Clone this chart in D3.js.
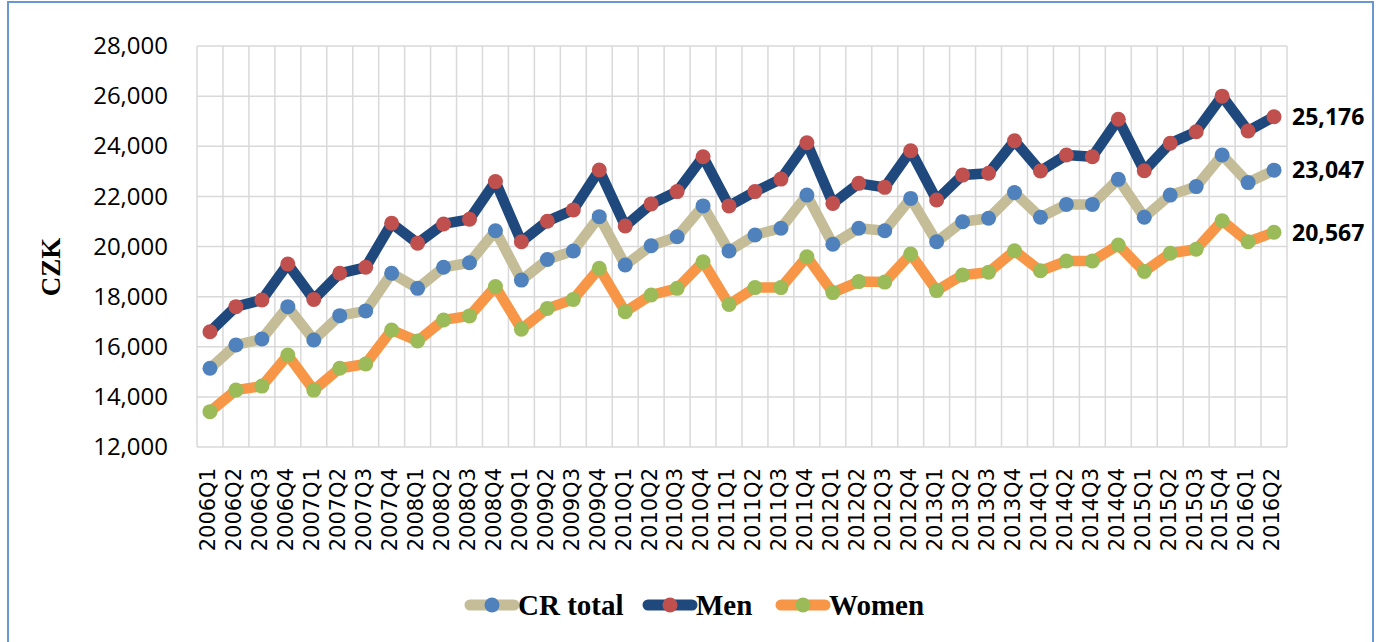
<!DOCTYPE html>
<html>
<head>
<meta charset="utf-8">
<script src="https://cdn.jsdelivr.net/npm/d3@7"></script>
<style>
  body { margin: 0; background: #fff; }
  svg { display: block; }
</style>
</head>
<body>
<div id="chart"></div>
<script>
// quarters on the x axis
quarters = [
    "2006Q1", "2006Q2", "2006Q3", "2006Q4",
    "2007Q1", "2007Q2", "2007Q3", "2007Q4",
    "2008Q1", "2008Q2", "2008Q3", "2008Q4",
    "2009Q1", "2009Q2", "2009Q3", "2009Q4",
    "2010Q1", "2010Q2", "2010Q3", "2010Q4",
    "2011Q1", "2011Q2", "2011Q3", "2011Q4",
    "2012Q1", "2012Q2", "2012Q3", "2012Q4",
    "2013Q1", "2013Q2", "2013Q3", "2013Q4",
    "2014Q1", "2014Q2", "2014Q3", "2014Q4",
    "2015Q1", "2015Q2", "2015Q3", "2015Q4",
    "2016Q1", "2016Q2"
];

// values (CZK)
crTotal = [
    15140, 16070, 16310, 17600, 16270, 17240, 17430, 18930,
    18330, 19170, 19350, 20630, 18660, 19480, 19820, 21190,
    19260, 20030, 20390, 21620, 19820, 20460, 20730, 22050,
    20090, 20730, 20630, 21920, 20190, 20990, 21125, 22150,
    21165, 21680, 21680, 22680, 21165, 22050, 22390, 23650,
    22550, 23047
];
men = [
    16600, 17600, 17865, 19300, 17890, 18930, 19170, 20925,
    20130, 20900, 21085, 22590, 20190, 21010, 21460, 23050,
    20820, 21700, 22190, 23580, 21620, 22190, 22690, 24140,
    21720, 22520, 22360, 23820, 21855, 22850, 22920, 24220,
    23010, 23650, 23580, 25075, 23020, 24120, 24580, 26000,
    24610, 25176
];
women = [
    13410, 14270, 14430, 15670, 14270, 15140, 15310, 16670,
    16230, 17070, 17230, 18400, 16700, 17530, 17890, 19130,
    17400, 18065, 18330, 19390, 17690, 18360, 18360, 19590,
    18160, 18600, 18580, 19700, 18240, 18860, 18970, 19830,
    19030, 19420, 19420, 20060, 19000, 19730, 19890, 21030,
    20190, 20567
];

yTicks = [12000, 14000, 16000, 18000, 20000, 22000, 24000, 26000, 28000];

seriesNames = ["CR total", "Men", "Women"];
lineColors = ["#C4BD97", "#1F497D", "#F79646"];
markerColors = ["#4F81BD", "#C0504D", "#9BBB59"];

width = 1381;
height = 642;
plotLeft = 197;
plotRight = 1287;
plotTop = 46;
plotBottom = 447;
lineStroke = 10.5;
circleRadius = 7.5;

data = [crTotal, men, women].map(function (vals, i) {
    return {
        name: seriesNames[i],
        values: vals.map(function (v, j) { return { q: quarters[j], v: v }; })
    };
});

/* Scale */
xScale = d3.scaleBand().domain(quarters).range([plotLeft, plotRight]).padding(0);
yScale = d3.scaleLinear().domain([12000, 28000]).range([plotBottom, plotTop]);
xMid = function (q) { return xScale(q) + xScale.bandwidth() / 2; };

svg = d3.select("#chart").append("svg")
    .attr("width", width)
    .attr("height", height);

// outer frame
svg.append("rect")
    .attr("x", 8)
    .attr("y", 2)
    .attr("width", 1365)
    .attr("height", 680)
    .attr("fill", "none")
    .attr("stroke", "#6A96D2")
    .attr("stroke-width", 2);

/* gridlines */
grid = svg.append("g").attr("class", "grid");

grid.selectAll(".hgrid")
    .data(yTicks).enter()
    .append("line")
    .attr("x1", plotLeft)
    .attr("x2", plotRight)
    .attr("y1", d => yScale(d))
    .attr("y2", d => yScale(d))
    .attr("stroke", "#D9D9D9")
    .attr("stroke-width", 1.5);

grid.selectAll(".vgrid")
    .data(quarters.concat(["end"])).enter()
    .append("line")
    .attr("x1", d => d == "end" ? plotRight : xScale(d))
    .attr("x2", d => d == "end" ? plotRight : xScale(d))
    .attr("y1", plotTop)
    .attr("y2", plotBottom)
    .attr("stroke", "#D9D9D9")
    .attr("stroke-width", 1.5);

/* Axes */
yAxis = d3.axisLeft(yScale)
    .tickValues(yTicks)
    .tickFormat(d3.format(","))
    .tickSize(0)
    .tickPadding(29);

svg.append("g")
    .attr("transform", `translate(${plotLeft},0)`)
    .call(yAxis)
    .call(g => g.select(".domain").remove())
    .selectAll("text")
    .attr("fill", "#000")
    .style("font-family", "'Open Sans', sans-serif")
    .style("font-size", "24px");

xAxis = d3.axisBottom(xScale).tickSize(0);

svg.append("g")
    .attr("transform", `translate(0,${plotBottom})`)
    .call(xAxis)
    .call(g => g.select(".domain").remove())
    .selectAll("text")
    .attr("fill", "#000")
    .attr("transform", "rotate(-90)")
    .attr("x", -21)
    .attr("y", -2)
    .attr("dy", "0.35em")
    .style("text-anchor", "end")
    .style("font-family", "'DejaVu Sans', sans-serif")
    .style("font-size", "21px");

svg.append("text")
    .attr("transform", "translate(60,267) rotate(-90)")
    .style("text-anchor", "middle")
    .style("font-family", "'Liberation Serif', serif")
    .style("font-weight", "bold")
    .style("font-size", "27px")
    .text("CZK");

/* lines and markers */
line = d3.line()
    .x(d => xMid(d.q))
    .y(d => yScale(d.v));

lines = svg.append("g").attr("class", "lines");

data.forEach(function (s, i) {
    g = lines.append("g").attr("class", "line-group");
    g.append("path")
        .attr("d", line(s.values))
        .attr("fill", "none")
        .attr("stroke", lineColors[i])
        .attr("stroke-width", lineStroke)
        .attr("stroke-linejoin", "round")
        .attr("stroke-linecap", "round");
    g.selectAll("circle")
        .data(s.values).enter()
        .append("circle")
        .attr("cx", d => xMid(d.q))
        .attr("cy", d => yScale(d.v))
        .attr("r", circleRadius)
        .attr("fill", markerColors[i]);

    // label on the last point
    last = s.values[s.values.length - 1];
    svg.append("text")
        .attr("x", xMid(last.q) + 18)
        .attr("y", yScale(last.v))
        .attr("dy", "0.36em")
        .style("font-family", "'Open Sans', sans-serif")
        .style("font-weight", "bold")
        .style("font-size", "23px")
        .text(d3.format(",")(last.v));
});

/* legend */
legendX = [466, 644, 777];
legend = svg.append("g").attr("class", "legend");
seriesNames.forEach(function (name, i) {
    lg = legend.append("g").attr("transform", `translate(${legendX[i]},605)`);
    lg.append("line")
        .attr("x1", 4).attr("x2", 48)
        .attr("y1", 0).attr("y2", 0)
        .attr("stroke", lineColors[i])
        .attr("stroke-width", 11)
        .attr("stroke-linecap", "round");
    lg.append("circle")
        .attr("cx", 26).attr("cy", 0)
        .attr("r", circleRadius)
        .attr("fill", markerColors[i]);
    lg.append("text")
        .attr("x", 52)
        .attr("y", 0)
        .attr("dy", "0.33em")
        .style("font-family", "'Liberation Serif', serif")
        .style("font-weight", "bold")
        .style("font-size", "29px")
        .text(name);
});
</script>
</body>
</html>
